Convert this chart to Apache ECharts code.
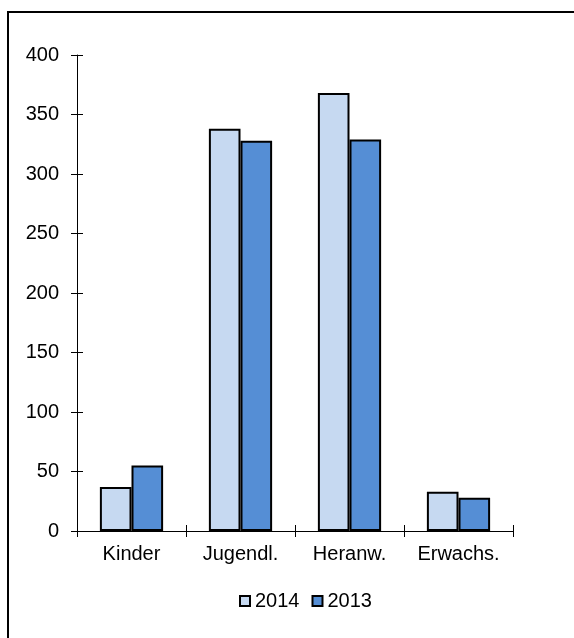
<!DOCTYPE html>
<html><head><meta charset="utf-8">
<script src="https://cdn.jsdelivr.net/npm/echarts@6/dist/echarts.min.js"></script>
<style>html,body{margin:0;padding:0;background:#fff}#c{width:574px;height:638px}</style>
</head><body><div id="c"></div>
<script>
const categories = ['Kinder', 'Jugendl.', 'Heranw.', 'Erwachs.'];
const values2014 = [37, 338, 368, 33];
const values2013 = [55, 328, 329, 28];
const seriesNames = ['2014', '2013'];

const font = 'Liberation Sans, Arial, sans-serif';
const chart = echarts.init(document.getElementById('c'), null, {renderer: 'canvas'});
const yBase = {type: 'value', min: 0, max: 400, interval: 50, splitLine: {show: false}};
chart.setOption({
  animation: false,
  backgroundColor: '#fff',
  grid: {left: 77, right: 61, top: 55, bottom: 107},
  graphic: [{type: 'rect', shape: {x: 8, y: 12, width: 620, height: 700}, style: {fill: 'none', stroke: '#000', lineWidth: 2}, z: 100}],
  legend: {
    data: seriesNames, left: 234, top: 586, icon: 'rect', itemWidth: 10, itemHeight: 10, itemGap: 12,
    textStyle: {fontFamily: font, fontSize: 20, color: '#000'}
  },
  xAxis: [
    {type: 'category', data: categories, position: 'bottom',
     axisLine: {lineStyle: {color: '#000', width: 1}},
     axisTick: {show: true, length: 6, lineStyle: {color: '#000'}},
     axisLabel: {fontFamily: font, fontSize: 20, color: '#000', margin: 13}},
    {type: 'category', data: categories, position: 'bottom',
     axisLine: {show: false},
     axisTick: {show: true, inside: true, length: 6, lineStyle: {color: '#000'}},
     axisLabel: {show: false}}
  ],
  yAxis: [
    Object.assign({}, yBase, {
      axisLine: {show: true, lineStyle: {color: '#000', width: 1}},
      axisTick: {show: true, length: 6, lineStyle: {color: '#000'}},
      axisLabel: {fontFamily: font, fontSize: 20, color: '#000', margin: 18}}),
    Object.assign({}, yBase, {position: 'left',
      axisLine: {show: false},
      axisTick: {show: true, inside: true, length: 6, lineStyle: {color: '#000'}},
      axisLabel: {show: false}})
  ],
  series: [
    {name: seriesNames[0], type: 'bar', data: values2014, barGap: '0%', barCategoryGap: '42%',
     itemStyle: {color: '#C6D9F1', borderColor: '#000', borderWidth: 2}},
    {name: seriesNames[1], type: 'bar', data: values2013, barGap: '0%', barCategoryGap: '42%',
     itemStyle: {color: '#558ED5', borderColor: '#000', borderWidth: 2}}
  ]
});
</script></body></html>
